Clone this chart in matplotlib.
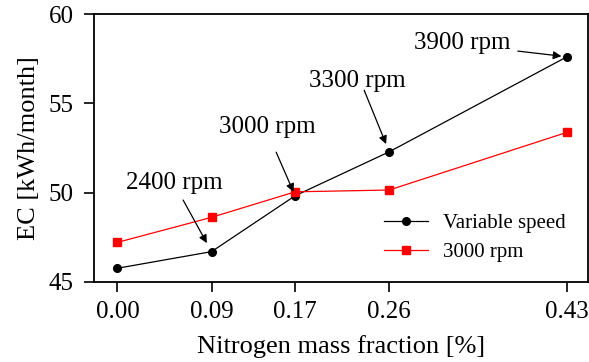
import numpy as np
import matplotlib.pyplot as plt

plt.rcParams['font.family'] = ['Liberation Serif', 'DejaVu Serif']

# nitrogen mass fraction [%] and monthly energy consumption [kWh/month]
fraction = [0.00, 0.09, 0.17, 0.26, 0.43]
ec_variable = [45.77, 46.70, 49.83, 52.29, 57.61]
ec_3000 = [47.22, 48.62, 50.05, 50.15, 53.38]

# compressor speed labels for the variable-speed points
speed_labels = ['2400 rpm', '3000 rpm', '3300 rpm', '3900 rpm']
speed_index = [1, 2, 3, 4]
label_pos = [(0.054, 50.54), (0.1436, 53.67), (0.2294, 56.25), (0.3298, 58.37)]
arrow_tail = [(0.0628, 49.59), (0.1518, 52.27), (0.236, 55.74), (0.383, 57.93)]
arrow_shrink = [7, 3, 6, 4]

fig = plt.figure(figsize=(5.89, 3.62), dpi=100)
ax = fig.add_axes([0.1604, 0.221, 0.8376, 0.740])

ax.plot(fraction, ec_variable, '-o', color='k', lw=0.9, ms=5.5, label='Variable speed')
ax.plot(fraction, ec_3000, '-s', color='#ff0000', lw=0.9, ms=5.5, label='3000 rpm')

for lab, i, pos, tail, sh in zip(speed_labels, speed_index, label_pos, arrow_tail, arrow_shrink):
    ax.text(pos[0], pos[1], lab, fontsize=18, ha='center', va='center')
    ax.annotate('', xy=(fraction[i], ec_variable[i]), xytext=tail,
                arrowprops=dict(arrowstyle='-|>', color='k', lw=0.9,
                                shrinkA=0, shrinkB=sh, mutation_scale=12))

ax.set_xlim(-0.022, 0.45)
ax.set_ylim(45, 60)
ax.set_xticks(fraction)
ax.set_xticklabels(['%.2f' % f for f in fraction])
ax.set_yticks([45, 50, 55, 60])

ax.tick_params(axis='x', direction='out', length=7, width=1.2, labelsize=18, pad=7)
ax.tick_params(axis='y', direction='out', length=7, width=1.2, labelsize=18, pad=8)
for s in ax.spines.values():
    s.set_linewidth(1.3)

ax.set_xlabel('Nitrogen mass fraction [%]', fontsize=19, labelpad=8)
ax.set_ylabel('EC [kWh/month]', fontsize=19, labelpad=6)

ax.legend(loc='center left', bbox_to_anchor=(0.652, 0.3425), bbox_transform=fig.transFigure,
          frameon=False, fontsize=15, handlelength=2.1, handletextpad=0.75,
          borderpad=0, borderaxespad=0, labelspacing=0.45)

fig.savefig('out.png', dpi=100)
